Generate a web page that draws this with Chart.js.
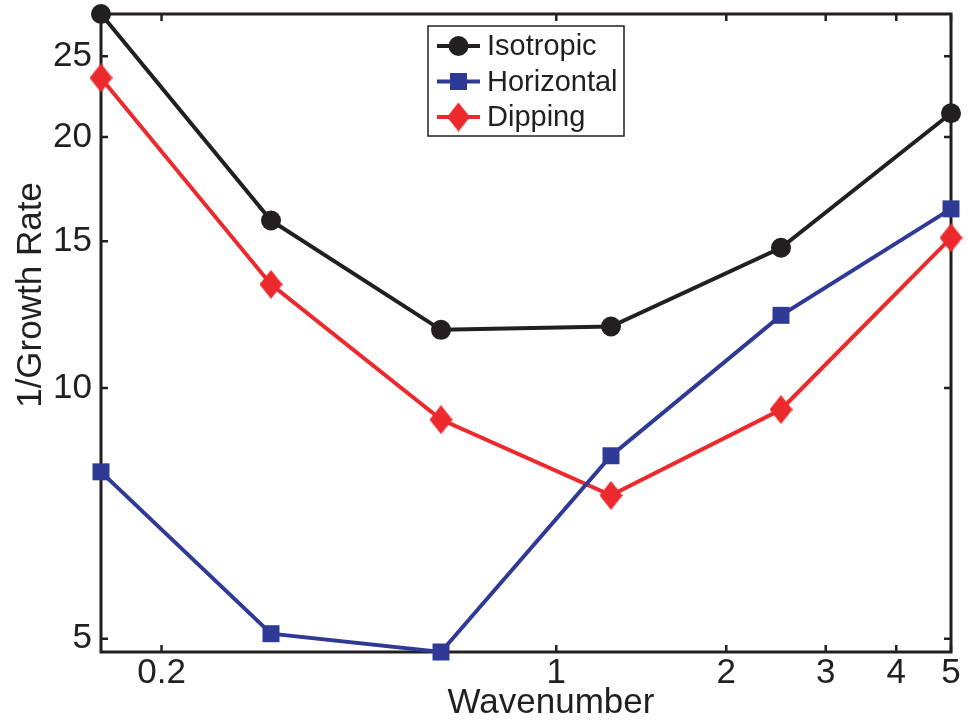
<!DOCTYPE html>
<html>
<head>
<meta charset="utf-8">
<script src="https://cdn.jsdelivr.net/npm/chart.js@4/dist/chart.umd.min.js"></script>
<style>
  html, body { margin: 0; padding: 0; background: #fff; }
  #wrap { width: 968px; height: 721px; position: relative; }
</style>
</head>
<body>
<div id="wrap"><canvas id="chart"></canvas></div>
<script>
var wavenumber = [0.15625, 0.3125, 0.625, 1.25, 2.5, 5];
var isotropic = [28.1, 15.88, 11.74, 11.85, 14.73, 21.36];
var horizontal = [7.93, 5.07, 4.82, 8.29, 12.22, 16.4];
var dipping = [23.55, 13.31, 9.16, 7.43, 9.42, 15.14];
var seriesNames = ['Isotropic', 'Horizontal', 'Dipping'];
var xTicks = [0.2, 1, 2, 3, 4, 5];
var yTicks = [5, 10, 15, 20, 25];

var ink = '#231f20';
var blue = '#2f3a96';
var red = '#ec2a2e';
var fontFamily = '"Liberation Sans", Arial, Helvetica, sans-serif';

function pairs(ys) {
  return ys.map(function (y, i) {
    return { x: wavenumber[i], y: y };
  });
}

// tall diamond marker, like the matlab 'd' symbol
function diamond(w, h, color) {
  var c = document.createElement('canvas');
  c.width = w;
  c.height = h;
  var g = c.getContext('2d');
  g.fillStyle = color;
  g.beginPath();
  g.moveTo(w / 2, 0);
  g.lineTo(w, h / 2);
  g.lineTo(w / 2, h);
  g.lineTo(0, h / 2);
  g.closePath();
  g.fill();
  return c;
}
var diamondMark = diamond(23, 29, red);

// boxed axes with inward ticks on all four sides
var frame = {
  id: 'frame',
  beforeDatasetsDraw: function (chart) {
    var a = chart.chartArea;
    var ctx = chart.ctx;
    var xs = chart.scales.x, ys = chart.scales.y;
    ctx.save();
    ctx.strokeStyle = ink;
    ctx.lineWidth = 2.5;
    ctx.beginPath();
    xTicks.forEach(function (v) {
      var px = xs.getPixelForValue(v);
      ctx.moveTo(px, a.bottom); ctx.lineTo(px, a.bottom - 7);
      ctx.moveTo(px, a.top); ctx.lineTo(px, a.top + 7);
    });
    yTicks.forEach(function (v) {
      var py = ys.getPixelForValue(v);
      ctx.moveTo(a.left, py); ctx.lineTo(a.left + 7, py);
      ctx.moveTo(a.right, py); ctx.lineTo(a.right - 7, py);
    });
    ctx.stroke();
    ctx.lineWidth = 3;
    ctx.strokeRect(a.left, a.top, a.right - a.left, a.bottom - a.top);
    ctx.restore();
  },
  afterDraw: function (chart) {
    var ctx = chart.ctx;
    ctx.save();
    ctx.fillStyle = ink;
    ctx.font = '35px ' + fontFamily;
    ctx.textAlign = 'center';
    ctx.textBaseline = 'alphabetic';
    ctx.fillText('Wavenumber', 551, 713);
    ctx.translate(41, 295);
    ctx.rotate(-Math.PI / 2);
    ctx.fillText('1/Growth Rate', 0, 0);
    ctx.restore();

    // legend
    ctx.save();
    ctx.fillStyle = '#fff';
    ctx.fillRect(428, 26, 196, 110);
    ctx.strokeStyle = ink;
    ctx.lineWidth = 1.5;
    ctx.strokeRect(428, 26, 196, 110);
    ctx.font = '29px ' + fontFamily;
    ctx.textBaseline = 'middle';
    ctx.textAlign = 'left';
    chart.data.datasets.forEach(function (ds, i) {
      var cy = 46 + i * 35.5;
      ctx.strokeStyle = ds.borderColor;
      ctx.lineWidth = 4;
      ctx.beginPath();
      ctx.moveTo(437, cy);
      ctx.lineTo(480, cy);
      ctx.stroke();
      ctx.fillStyle = ds.borderColor;
      if (ds.pointStyle === 'circle') {
        ctx.beginPath();
        ctx.arc(458.5, cy, 10, 0, Math.PI * 2);
        ctx.fill();
      } else if (ds.pointStyle === 'rect') {
        ctx.fillRect(450, cy - 8.5, 17, 17);
      } else {
        ctx.drawImage(diamondMark, 458.5 - diamondMark.width / 2, cy - diamondMark.height / 2);
      }
      ctx.fillStyle = ink;
      ctx.fillText(ds.label, 487, cy + 1);
    });
    ctx.restore();
  }
};

function tickFont() {
  return { family: fontFamily, size: 35, lineHeight: 1 };
}

// fixed axis sizes, no extra room for overhanging labels
function noMargins(scale) {
  scale.paddingTop = 0;
  scale.paddingBottom = 0;
  scale.paddingLeft = 0;
  scale.paddingRight = 0;
}

new Chart(document.getElementById('chart'), {
  type: 'line',
  data: {
    datasets: [
      {
        label: seriesNames[0],
        data: pairs(isotropic),
        borderColor: ink,
        backgroundColor: ink,
        pointStyle: 'circle',
        pointRadius: 10
      },
      {
        label: seriesNames[1],
        data: pairs(horizontal),
        borderColor: blue,
        backgroundColor: blue,
        pointStyle: 'rect',
        pointRadius: 12
      },
      {
        label: seriesNames[2],
        data: pairs(dipping),
        borderColor: red,
        backgroundColor: red,
        pointStyle: diamondMark,
        pointRadius: 14
      }
    ].map(function (ds) {
      ds.borderWidth = 4;
      ds.pointBorderWidth = 0;
      ds.tension = 0;
      ds.fill = false;
      ds.clip = false;
      return ds;
    })
  },
  options: {
    responsive: true,
    maintainAspectRatio: false,
    animation: false,
    events: [],
    layout: { padding: { top: 13, right: 17, left: 0, bottom: 0 } },
    plugins: {
      legend: { display: false },
      tooltip: { enabled: false }
    },
    scales: {
      x: {
        type: 'logarithmic',
        min: 0.15625,
        max: 5,
        afterBuildTicks: function (scale) {
          scale.ticks = xTicks.map(function (v) { return { value: v }; });
        },
        afterFit: function (scale) {
          scale.height = 69;
          noMargins(scale);
        },
        ticks: {
          color: ink,
          font: tickFont(),
          padding: 4,
          maxRotation: 0,
          autoSkip: false,
          callback: function (v) { return String(v); }
        },
        grid: { display: false, drawTicks: false },
        border: { display: false }
      },
      y: {
        type: 'logarithmic',
        min: 4.82,
        max: 28.1,
        afterBuildTicks: function (scale) {
          scale.ticks = yTicks.map(function (v) { return { value: v }; });
        },
        afterFit: function (scale) {
          scale.width = 101;
          noMargins(scale);
        },
        ticks: {
          color: ink,
          font: tickFont(),
          padding: 9,
          autoSkip: false,
          callback: function (v) { return String(v); }
        },
        grid: { display: false, drawTicks: false },
        border: { display: false }
      }
    }
  },
  plugins: [frame]
});
</script>
</body>
</html>
